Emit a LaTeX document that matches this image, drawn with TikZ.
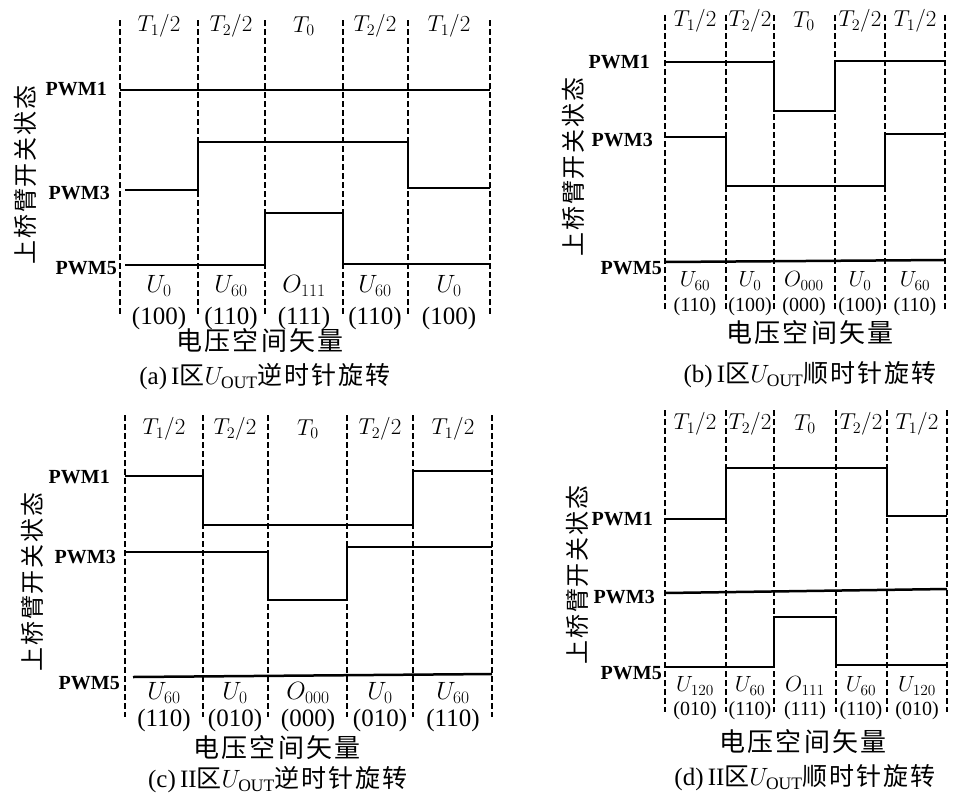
\RequirePackage{fix-cm}
\documentclass[tikz,border=0pt]{standalone}
\usepackage{fontspec}
\setmainfont{Liberation Serif}
\newfontfamily\cjk[LetterSpace=8]{Noto Sans CJK SC}

\tikzset{
  slotline/.style={line width=1.3pt, dash pattern=on 6pt off 3pt},
  wave/.style={line width=2.5pt},
  pwmlabel/.style={anchor=east, inner sep=1pt, font=\fontsize{20}{20}\selectfont\bfseries},
  timelabel/.style={inner sep=0pt, font=\fontsize{23}{23}\selectfont},
  veclabel/.style={inner sep=0pt, font=\fontsize{25}{25}\selectfont},
  codelabel/.style={inner sep=0pt, font=\fontsize{25}{25}\selectfont},
  narrowvec/.style={inner sep=0pt, font=\fontsize{22}{22}\selectfont},
  narrowcode/.style={inner sep=0pt, font=\fontsize{20}{20}\selectfont},
  axistitle/.style={inner sep=0pt, font=\fontsize{26}{26}\selectfont\cjk},
  sidetitle/.style={inner sep=0pt, rotate=90, font=\fontsize{24}{24}\selectfont\cjk},
  caption/.style={inner sep=0pt, font=\fontsize{25}{25}\selectfont}
}

\begin{document}
\begin{tikzpicture}[x=1pt, y=-1pt]
    \useasboundingbox (0,0) rectangle (954,796);

    % Panel (a)
    \foreach \x in {120,198,265,343,408,490}
        \draw[slotline] (\x,20) -- (\x,315);
    \node[sidetitle] (a-side) at (25,175) {上桥臂开关状态};
    \node[pwmlabel] (a-p1) at (108,89) {PWM1};
    \node[pwmlabel] (a-p3) at (111,193) {PWM3};
    \node[pwmlabel] (a-p5) at (118,268) {PWM5};
    \draw[wave] (120,90) -- (490,90);
    \draw[wave] (125,190) -- (198,190) -- (198,142) -- (408,142) -- (408,188) -- (490,188);
    \draw[wave] (125,265) -- (265,265) -- (265,213) -- (343,213) -- (343,264) -- (490,264);
    \foreach \c/\t [count=\i] in {159/{$T_1/2$}, 231/{$T_2/2$}, 304/{$T_0$}, 375/{$T_2/2$}, 449/{$T_1/2$}}
        \node[timelabel] (a-t\i) at (\c,26) {\t};
    \foreach \c/\u/\v [count=\i] in {159/U_0/100, 231/U_{60}/110, 304/O_{111}/111, 375/U_{60}/110, 449/U_0/100}{
        \node[veclabel] (a-u\i) at (\c,286) {$\u$};
        \node[codelabel] (a-c\i) at (\c,318) {(\v)};
    }
    \node[axistitle] (a-axis) at (260,341) {电压空间矢量};
    \node[caption] (a-cap) at (265,377) {(a)\,I{\cjk 区}$U_{\mathrm{OUT}}${\cjk 逆时针旋转}};

    % Panel (b)
    \foreach \x in {665,726,774,835,885,945}
        \draw[slotline] (\x,15) -- (\x,310);
    \node[sidetitle] (b-side) at (573,167) {上桥臂开关状态};
    \node[pwmlabel] (b-p1) at (651,62) {PWM1};
    \node[pwmlabel] (b-p3) at (654,140) {PWM3};
    \node[pwmlabel] (b-p5) at (663,268) {PWM5};
    \draw[wave] (665,62) -- (774,62) -- (774,111) -- (835,111) -- (835,61) -- (945,61);
    \draw[wave] (665,137) -- (726,137) -- (726,186) -- (885,186) -- (885,134) -- (945,134);
    \draw[wave] (665,262) -- (945,260);
    \foreach \c/\t [count=\i] in {695/{$T_1/2$}, 750/{$T_2/2$}, 804/{$T_0$}, 860/{$T_2/2$}, 915/{$T_1/2$}}
        \node[timelabel] (b-t\i) at (\c,21) {\t};
    \foreach \c/\u/\v [count=\i] in {695/U_{60}/110, 750/U_0/100, 804/O_{000}/000, 860/U_0/100, 915/U_{60}/110}{
        \node[narrowvec] (b-u\i) at (\c,281) {$\u$};
        \node[narrowcode] (b-c\i) at (\c,307) {(\v)};
    }
    \node[axistitle] (b-axis) at (810,333) {电压空间矢量};
    \node[caption] (b-cap) at (810,375) {(b)\,I{\cjk 区}$U_{\mathrm{OUT}}${\cjk 顺时针旋转}};

    % Panel (c)
    \foreach \x in {125,203,268,347,413,492}
        \draw[slotline] (\x,415) -- (\x,717);
    \node[sidetitle] (c-side) at (32,582) {上桥臂开关状态};
    \node[pwmlabel] (c-p1) at (111,477) {PWM1};
    \node[pwmlabel] (c-p3) at (117,557) {PWM3};
    \node[pwmlabel] (c-p5) at (121,683) {PWM5};
    \draw[wave] (125,476) -- (203,476) -- (203,525) -- (413,525) -- (413,471) -- (492,471);
    \draw[wave] (125,552) -- (268,552) -- (268,600) -- (347,600) -- (347,547) -- (492,547);
    \draw[wave] (133,677) -- (492,674);
    \foreach \c/\t [count=\i] in {164/{$T_1/2$}, 235/{$T_2/2$}, 308/{$T_0$}, 380/{$T_2/2$}, 453/{$T_1/2$}}
        \node[timelabel] (c-t\i) at (\c,429) {\t};
    \foreach \c/\u/\v [count=\i] in {164/U_{60}/110, 235/U_0/010, 308/O_{000}/000, 380/U_0/010, 453/U_{60}/110}{
        \node[veclabel] (c-u\i) at (\c,693) {$\u$};
        \node[codelabel] (c-c\i) at (\c,720) {(\v)};
    }
    \node[axistitle] (c-axis) at (277,748) {电压空间矢量};
    \node[caption] (c-cap) at (278,780) {(c)\,II{\cjk 区}$U_{\mathrm{OUT}}${\cjk 逆时针旋转}};

    % Panel (d)
    \foreach \x in {665,726,774,836,887,947}
        \draw[slotline] (\x,410) -- (\x,712);
    \node[sidetitle] (d-side) at (577,575) {上桥臂开关状态};
    \node[pwmlabel] (d-p1) at (654,519) {PWM1};
    \node[pwmlabel] (d-p3) at (656,597) {PWM3};
    \node[pwmlabel] (d-p5) at (663,673) {PWM5};
    \draw[wave] (665,519) -- (726,519) -- (726,468) -- (887,468) -- (887,516) -- (947,516);
    \draw[wave] (665,593) -- (947,589);
    \draw[wave] (665,667) -- (774,667) -- (774,617) -- (836,617) -- (836,665) -- (947,665);
    \foreach \c/\t [count=\i] in {695/{$T_1/2$}, 750/{$T_2/2$}, 805/{$T_0$}, 861/{$T_2/2$}, 917/{$T_1/2$}}
        \node[timelabel] (d-t\i) at (\c,424) {\t};
    \foreach \c/\u/\v [count=\i] in {695/U_{120}/010, 750/U_{60}/110, 805/O_{111}/111, 861/U_{60}/110, 917/U_{120}/010}{
        \node[narrowvec] (d-u\i) at (\c,686) {$\u$};
        \node[narrowcode] (d-c\i) at (\c,711) {(\v)};
    }
    \node[axistitle] (d-axis) at (803,742) {电压空间矢量};
    \node[caption] (d-cap) at (805,778) {(d)\,II{\cjk 区}$U_{\mathrm{OUT}}${\cjk 顺时针旋转}};
\end{tikzpicture}
\end{document}
